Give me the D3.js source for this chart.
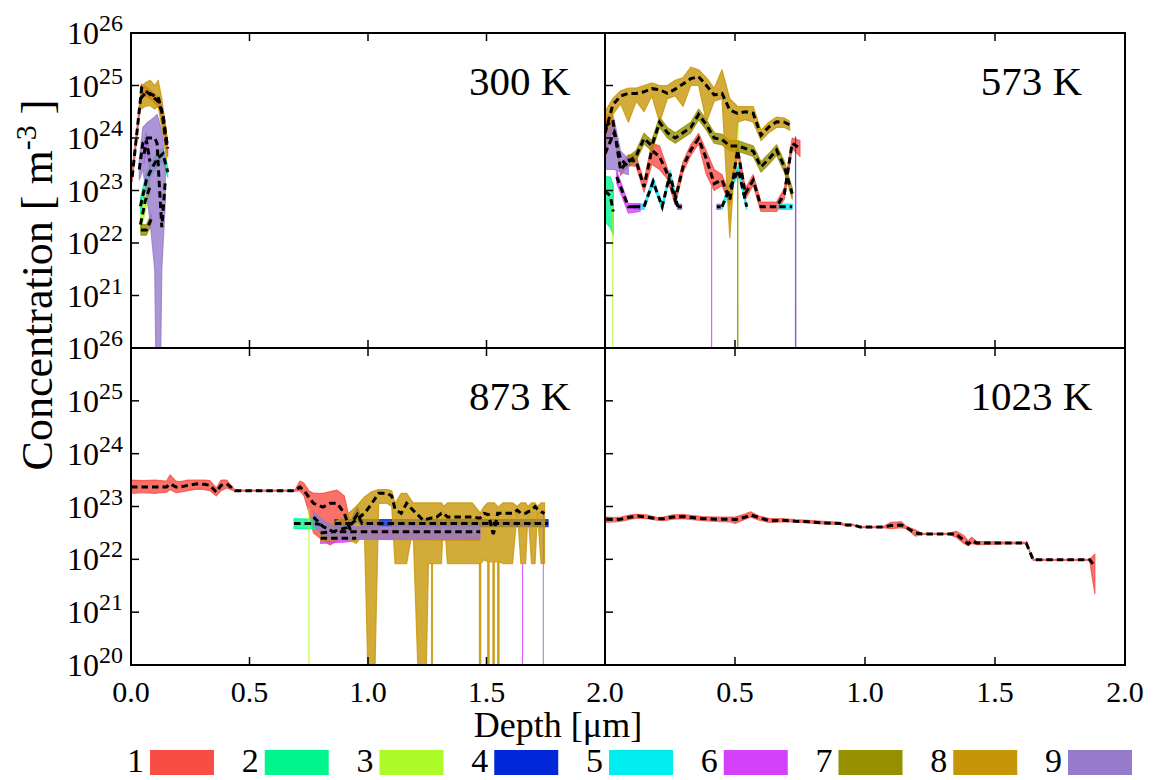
<!DOCTYPE html>
<html><head><meta charset="utf-8">
<script src="https://cdn.jsdelivr.net/npm/d3@7"></script>
<style>
body{margin:0;background:#fff}
svg{display:block}
text{font-family:"Liberation Serif","DejaVu Serif",serif;fill:#000}
</style>
</head><body>
<svg id="chart" width="1153" height="780"></svg>
<script>
// ---------------- DATA ----------------
// Each series = list of segments; each point = [depth (µm), lower, mean, upper]
// values are log10 of concentration (m^-3); null = zero concentration (mean: not drawn)
const panelLabels = ["300 K", "573 K", "873 K", "1023 K"];
const seriesNames = ["1", "2", "3", "4", "5", "6", "7", "8", "9"];
const seriesColors = ["#f74d44", "#00f58c", "#acfa28", "#0028d8", "#00eef0", "#d440fa", "#968f00", "#c79608", "#967acc"];
const xTickValues = [0, 0.5, 1.0, 1.5, 2.0];
const xTickLabels = ["0.0", "0.5", "1.0", "1.5", "2.0"];
const yTickExponents = [20, 21, 22, 23, 24, 25, 26];

// ---- 300 K ----
const t300_s1 = [[[0.005,23.17,23.26,23.35],[0.045,24.85,24.95,25.03],[0.08,24.75,24.83,24.92],[0.114,24.6,24.7,24.78],[0.135,24.3,24.45,24.55],[0.155,23.65,23.8,23.92]]];
const t300_s2 = [[[0.04,22.55,22.7,22.85],[0.065,23.05,23.2,23.35],[0.085,23.3,23.4,23.5],[0.11,23.45,23.6,23.75],[0.135,23.55,23.7,23.8],[0.155,23.25,23.35,23.45]]];
const t300_s3 = [[[0.04,22.2,22.35,22.5],[0.06,22.6,22.8,22.95],[0.08,22.95,23.07,23.2]]];
const t300_s4 = [];
const t300_s5 = [];
const t300_s6 = [[[0.055,23.5,23.7,23.9],[0.065,23.8,23.95,24.1],[0.08,23.4,23.55,23.7]]];
const t300_s7 = [[[0.042,22.15,22.25,22.35],[0.065,22.15,22.25,22.35],[0.085,22.35,22.45,22.55]]];
const t300_s8 = [[[0.04,24.55,24.75,24.95],[0.06,24.6,24.85,25.05],[0.08,24.62,24.85,25.1],[0.1,24.55,24.8,25.0],[0.115,24.6,24.78,25.1],[0.13,24.2,24.5,24.75],[0.15,23.6,23.85,24.05]]];
const t300_s9 = [[[0.035,23.2,23.4,23.6],[0.05,23.4,23.9,24.2],[0.07,22.8,24.0,24.3],[0.085,22.2,24.0,24.35],[0.1,21.5,24.0,24.4],[0.11,18,23.9,24.45],[0.12,18,23.07,24.3],[0.13,21.5,22.3,24.1],[0.145,22.8,23.2,23.5]]];

// ---- 573 K ----
const t573_s1 = [[[0,23.6,24.21,24.45],[0.03,24.24,24.34,24.44],[0.06,23.29,23.39,23.49],[0.09,23.48,23.58,23.68],[0.12,23.46,23.56,23.66],[0.15,22.97,23.07,23.17],[0.18,23.5,23.77,23.9],[0.21,23.4,23.64,23.85],[0.24,23.22,23.32,23.42],[0.27,22.72,22.82,22.92],[0.3,23.35,23.45,23.55],[0.33,23.67,23.77,23.87],[0.36,23.89,23.99,24.09],[0.39,23.3,23.6,23.75],[0.42,23.0,23.13,23.4],[0.45,23.1,23.2,23.3],[0.48,22.72,22.82,22.92],[0.51,23.67,23.77,23.87],[0.54,22.84,22.94,23.04],[0.57,23.1,23.2,23.3],[0.6,22.6,22.69,22.78],[0.63,22.6,22.69,22.78],[0.66,22.6,22.69,22.78],[0.69,22.84,22.94,23.04],[0.72,23.8,23.9,24.0],[0.75,23.65,23.8,23.95]]];
const t573_s2 = [[[0.0,22.4,22.99,23.26],[0.02,22.3,22.9,23.26],[0.032,22.15,22.6,23.1]]];
const t573_s3 = [[[0.02,null,null,null],[0.03,null,null,22.69],[0.04,null,null,null]],
                 [[0.5,null,null,null],[0.512,23.4,null,24.4],[0.525,null,null,null]]];
const t573_s4 = [[[0.72,null,null,null],[0.733,23.07,null,24.02],[0.745,null,null,null]]];
const t573_s5 = [[[0.11,22.64,22.69,22.74],[0.15,22.64,22.69,22.74],[0.185,23.1,23.17,23.24],[0.22,22.64,22.69,22.74],[0.25,23.25,23.32,23.39],[0.28,22.64,22.69,22.74]],
                 [[0.45,22.64,22.69,22.74],[0.475,22.92,22.99,23.06],[0.513,23.32,23.39,23.46],[0.545,22.64,22.69,22.74]],
                 [[0.67,22.64,22.69,22.74],[0.72,22.64,22.69,22.74]]];
const t573_s6 = [[[0.045,23.14,23.26,23.38],[0.09,22.57,22.69,22.75],[0.135,22.6,22.69,22.75]],
                 [[0.4,null,null,null],[0.41,null,null,23.07],[0.42,null,null,null]],
                 [[0.5,null,null,null],[0.51,null,null,23.39],[0.52,null,null,null]],
                 [[0.72,null,null,null],[0.733,null,null,23.07],[0.745,null,null,null]]];
const t573_s7 = [[[0.09,23.45,23.55,23.65],[0.12,23.56,23.66,23.76],[0.15,23.89,23.99,24.09],[0.18,23.75,23.85,23.95],[0.21,24.2,24.3,24.4],[0.24,24.0,24.1,24.2],[0.27,23.9,24.0,24.1],[0.3,24.0,24.1,24.2],[0.33,24.1,24.2,24.3],[0.36,24.35,24.45,24.55],[0.39,24.15,24.25,24.35],[0.42,23.9,24.0,24.1],[0.45,23.87,23.97,24.07],[0.48,23.75,23.85,23.95],[0.51,23.75,23.85,23.95],[0.54,23.7,23.8,23.9],[0.57,23.65,23.75,23.85],[0.6,23.35,23.45,23.55],[0.63,23.5,23.6,23.7],[0.66,23.67,23.77,23.87],[0.69,23.35,23.45,23.55],[0.72,22.84,22.94,23.04]]];
const t573_s8 = [[[0,23.8,24.09,24.5],[0.03,24.45,24.63,24.75],[0.06,24.65,24.8,24.9],[0.09,24.3,24.85,24.95],[0.12,24.7,24.85,24.95],[0.15,24.5,24.88,25.0],[0.18,24.8,24.94,25.05],[0.21,24.3,24.92,25.0],[0.24,24.75,24.85,25.0],[0.27,24.8,24.93,25.1],[0.3,24.6,25.03,25.15],[0.33,25.0,25.13,25.35],[0.36,25.0,25.17,25.3],[0.39,24.3,25.0,25.15],[0.42,24.7,24.82,24.95],[0.45,24.75,24.85,25.3],[0.48,22.1,24.53,24.75],[0.51,24.3,24.47,24.6],[0.54,24.35,24.5,24.6],[0.57,24.3,24.47,24.6],[0.6,23.95,24.05,24.15],[0.63,24.1,24.21,24.3],[0.66,24.2,24.31,24.4],[0.69,24.2,24.3,24.38],[0.71,24.15,24.25,24.32]]];
const t573_s9 = [[[0.0,23.4,23.7,24.0],[0.035,23.4,24.1,24.35],[0.06,23.35,23.6,23.75],[0.09,23.3,23.45,23.6]],
                 [[0.28,22.64,22.69,22.74],[0.295,22.64,22.69,22.74]],
                 [[0.43,22.64,22.69,22.74],[0.445,22.64,22.69,22.74]]];

// ---- 873 K ----
const t873_s1 = [[[0,23.25,23.37,23.5],[0.05,23.26,23.37,23.49],[0.1,23.25,23.37,23.5],[0.15,23.27,23.37,23.48],[0.165,23.32,23.43,23.6],[0.19,23.26,23.37,23.48],[0.207,23.27,23.37,23.47],[0.24,23.3,23.4,23.5],[0.277,23.33,23.43,23.5],[0.31,23.32,23.42,23.5],[0.333,23.3,23.4,23.49],[0.36,23.2,23.27,23.35],[0.38,23.3,23.4,23.5],[0.404,23.35,23.43,23.5],[0.439,23.29,23.3,23.31],[0.692,23.29,23.3,23.31],[0.713,23.3,23.37,23.48],[0.73,23.2,23.3,23.44],[0.75,22.9,23.18,23.3],[0.77,22.5,23.06,23.25],[0.81,22.36,22.99,23.25],[0.84,22.27,23.06,23.28],[0.87,22.35,23.06,23.31],[0.9,22.43,22.87,23.2],[0.93,22.38,22.5,22.6],[1.47,22.36,null,22.5]]];
const t873_s2 = [[[0.688,22.58,22.68,22.77],[0.77,22.58,22.68,22.76],[0.8,22.6,22.66,22.72]]];
const t873_s3 = [[[0.735,null,null,null],[0.751,null,null,22.96],[0.765,null,null,null]]];
const t873_s4 = [[[0.86,22.6,22.68,22.75],[0.93,22.62,22.68,22.75],[0.955,22.72,22.85,22.99],[0.975,22.62,22.68,22.75],[1.76,22.62,22.68,22.75]]];
const t873_s5 = [];
const t873_s6 = [[[0.8,22.3,22.4,22.5],[0.91,22.33,22.4,22.47],[0.95,22.36,22.4,22.44]],
                 [[1.64,null,null,null],[1.652,null,null,21.92],[1.665,null,null,null]]];
const t873_s7 = [];
const t873_s8 = [[[0.80,22.36,22.5,22.65],[0.85,22.36,22.52,22.68],[0.91,22.4,22.6,22.84],[0.95,22.3,22.75,23.0],[0.985,22.5,22.87,23.18],[1.015,17,23.05,23.28],[1.045,23.06,23.25,23.32],[1.08,23.06,23.25,23.32],[1.10,23.0,23.2,23.3],[1.114,21.92,22.95,23.06],[1.14,21.92,22.87,23.25],[1.163,21.92,23.06,23.25],[1.19,22.6,22.93,23.07],[1.233,17,22.74,23.07],[1.255,21.92,22.77,23.07],[1.268,21.92,22.78,23.07],[1.27,null,22.78,23.07],[1.272,21.92,22.78,23.07],[1.29,21.92,22.8,23.07],[1.31,21.92,22.87,23.07],[1.32,22.9,22.87,23.0],[1.335,21.92,22.8,23.07],[1.44,21.92,22.8,23.07],[1.47,21.92,22.78,22.9],[1.473,null,22.78,22.85],[1.476,21.92,22.8,22.9],[1.49,22.0,22.87,23.0],[1.505,21.95,22.85,23.07],[1.508,null,22.85,23.07],[1.511,21.95,22.8,23.07],[1.527,21.95,22.5,23.07],[1.53,null,22.5,23.07],[1.533,21.95,22.55,23.07],[1.547,21.95,22.87,23.0],[1.55,null,22.87,23.0],[1.553,21.95,22.87,23.0],[1.57,21.92,22.87,23.07],[1.61,21.92,22.87,23.07],[1.63,22.9,22.93,23.0],[1.645,21.92,22.87,23.07],[1.665,21.92,22.87,23.07],[1.675,22.9,22.9,23.0],[1.69,21.92,22.93,23.07],[1.705,21.92,23.0,23.07],[1.715,22.9,22.95,23.0],[1.73,21.92,22.9,23.07],[1.745,21.92,22.87,23.07]]];
const t873_s9 = [[[0.77,22.65,22.8,22.9],[0.81,22.45,22.62,22.75],[0.854,22.38,22.52,22.62],[1.473,22.38,22.52,22.62]],
                 [[1.73,null,null,null],[1.74,null,null,22.93],[1.75,null,null,null]]];

// ---- 1023 K ----
const t1023_s1 = [[[0.005,22.7,22.76,22.8],[0.035,22.71,22.75,22.79],[0.06,22.72,22.76,22.8],[0.099,22.76,22.8,22.84],[0.126,22.78,22.82,22.85],[0.16,22.77,22.8,22.84],[0.2,22.74,22.77,22.79],[0.225,22.73,22.77,22.8],[0.26,22.76,22.8,22.84],[0.3,22.77,22.81,22.85],[0.337,22.75,22.79,22.83],[0.376,22.73,22.77,22.81],[0.428,22.72,22.76,22.8],[0.481,22.71,22.76,22.8],[0.5,22.68,22.75,22.8],[0.54,22.76,22.8,22.86],[0.56,22.8,22.84,22.9],[0.593,22.74,22.79,22.82],[0.633,22.7,22.73,22.77],[0.679,22.71,22.74,22.77],[0.731,22.71,22.72,22.75],[0.784,22.69,22.71,22.74],[0.837,22.67,22.69,22.72],[0.903,22.66,22.68,22.7],[0.93,22.63,22.65,22.66],[0.955,22.64,22.65,22.66],[0.982,22.6,22.61,22.62],[1.07,22.6,22.61,22.62],[1.1,22.58,22.64,22.7],[1.14,22.6,22.65,22.71],[1.16,22.58,22.6,22.62],[1.193,22.44,22.5,22.56],[1.22,22.47,22.48,22.49],[1.324,22.47,22.48,22.49],[1.35,22.42,22.48,22.53],[1.38,22.3,22.36,22.45],[1.397,22.26,22.29,22.35],[1.41,22.3,22.35,22.42],[1.43,22.28,22.31,22.34],[1.62,22.3,22.31,22.32],[1.647,21.98,21.99,22.0],[1.864,21.98,21.99,22.0],[1.884,21.35,21.87,22.1]]];

const panelData = [
  [t300_s1, t300_s2, t300_s3, t300_s4, t300_s5, t300_s6, t300_s7, t300_s8, t300_s9],
  [t573_s1, t573_s2, t573_s3, t573_s4, t573_s5, t573_s6, t573_s7, t573_s8, t573_s9],
  [t873_s1, t873_s2, t873_s3, t873_s4, t873_s5, t873_s6, t873_s7, t873_s8, t873_s9],
  [t1023_s1, [], [], [], [], [], [], [], []]
];

// ---------------- LAYOUT ----------------
const W = 1153, H = 780;
const frames = [
  {x0:131, x1:605, y0:33,  y1:348, left:true,  bottom:false},
  {x0:605, x1:1125, y0:33, y1:348, left:false, bottom:false},
  {x0:131, x1:605, y0:348, y1:665, left:true,  bottom:true},
  {x0:605, x1:1125, y0:348, y1:665, left:false, bottom:true}
];

const svg = d3.select("#chart");
svg.append("rect").attr("width", W).attr("height", H).attr("fill", "#fff");
const defs = svg.append("defs");

const toConc = v => v === null ? 1e-300 : Math.pow(10, v);

frames.forEach((f, pi) => {
  const x = d3.scaleLinear().domain([0, 2]).range([f.x0, f.x1]);
  const y = d3.scaleLog().domain([1e20, 1e26]).range([f.y1, f.y0]);

  defs.append("clipPath").attr("id", "clip" + pi)
    .append("rect").attr("x", f.x0).attr("y", f.y0)
    .attr("width", f.x1 - f.x0).attr("height", f.y1 - f.y0);

  const g = svg.append("g").attr("clip-path", `url(#clip${pi})`);

  const area = d3.area()
    .x(p => x(p[0]))
    .y0(p => y(toConc(p[1])))
    .y1(p => y(toConc(p[3])));
  const line = d3.line()
    .defined(p => p[2] !== null)
    .x(p => x(p[0]))
    .y(p => y(toConc(p[2])));

  panelData[pi].forEach((series, si) => {
    series.forEach(seg => {
      g.append("path").attr("d", area(seg))
        .attr("fill", seriesColors[si]).attr("fill-opacity", 0.8)
        .attr("stroke", seriesColors[si]).attr("stroke-opacity", 0.8)
        .attr("stroke-width", 1.2).attr("stroke-linejoin", "round");
    });
  });
  panelData[pi].forEach((series, si) => {
    series.forEach(seg => {
      g.append("path").attr("d", line(seg))
        .attr("fill", "none").attr("stroke", "#000")
        .attr("stroke-width", 3).attr("stroke-dasharray", "6.5,4");
    });
  });

  // frame
  svg.append("rect").attr("x", f.x0).attr("y", f.y0)
    .attr("width", f.x1 - f.x0).attr("height", f.y1 - f.y0)
    .attr("fill", "none").attr("stroke", "#000").attr("stroke-width", 2);

  // ticks
  const tg = svg.append("g").attr("stroke", "#000").attr("stroke-width", 1.5);
  yTickExponents.forEach(e => {
    const yy = y(Math.pow(10, e));
    tg.append("line").attr("x1", f.x0).attr("x2", f.x0 + 8).attr("y1", yy).attr("y2", yy);
  });
  xTickValues.forEach(t => {
    const xx = x(t);
    tg.append("line").attr("x1", xx).attr("x2", xx).attr("y1", f.y1).attr("y2", f.y1 - 8);
    tg.append("line").attr("x1", xx).attr("x2", xx).attr("y1", f.y0).attr("y2", f.y0 + 8);
  });

  // y tick labels (left panels only)
  if (f.left) {
    yTickExponents.forEach(e => {
      if (!f.bottom && e === 20) return; // hidden behind lower panel's top label
      const yy = y(Math.pow(10, e));
      const t = svg.append("text").attr("x", f.x0 - 8).attr("y", yy + 11)
        .attr("text-anchor", "end").attr("font-size", 32);
      t.append("tspan").text("10");
      t.append("tspan").attr("dy", -13).attr("font-size", 24).text(e);
    });
  }
  // x tick labels (bottom panels only)
  if (f.bottom) {
    xTickValues.forEach((tv, i) => {
      if (!f.left && i === 0) return; // overlaps left panel's 2.0
      svg.append("text").attr("x", x(tv)).attr("y", f.y1 + 37)
        .attr("text-anchor", "middle").attr("font-size", 30).text(xTickLabels[i]);
    });
  }
  // panel label
  svg.append("text").attr("x", f.x0 + 0.82 * (f.x1 - f.x0)).attr("y", f.y0 + 62)
    .attr("text-anchor", "middle").attr("font-size", 41).text(panelLabels[pi]);
});

// axis labels
svg.append("text").attr("x", 558).attr("y", 737).attr("text-anchor", "middle")
  .attr("font-size", 36).text("Depth [\u03bcm]");
const yl = svg.append("text").attr("transform", "translate(52,285) rotate(-90)")
  .attr("text-anchor", "middle").attr("font-size", 44);
yl.append("tspan").text("Concentration [ m");
yl.append("tspan").attr("dy", -16).attr("font-size", 30).text("-3");
yl.append("tspan").attr("dy", 16).text(" ]");

// legend
const lg = svg.append("g");
seriesNames.forEach((name, i) => {
  const sx = 150 + i * 114.75;
  lg.append("rect").attr("x", sx).attr("y", 750).attr("width", 64).attr("height", 25)
    .attr("fill", seriesColors[i]);
  lg.append("text").attr("x", sx - 6).attr("y", 772).attr("text-anchor", "end")
    .attr("font-size", 34).text(name);
});
</script>
</body></html>
